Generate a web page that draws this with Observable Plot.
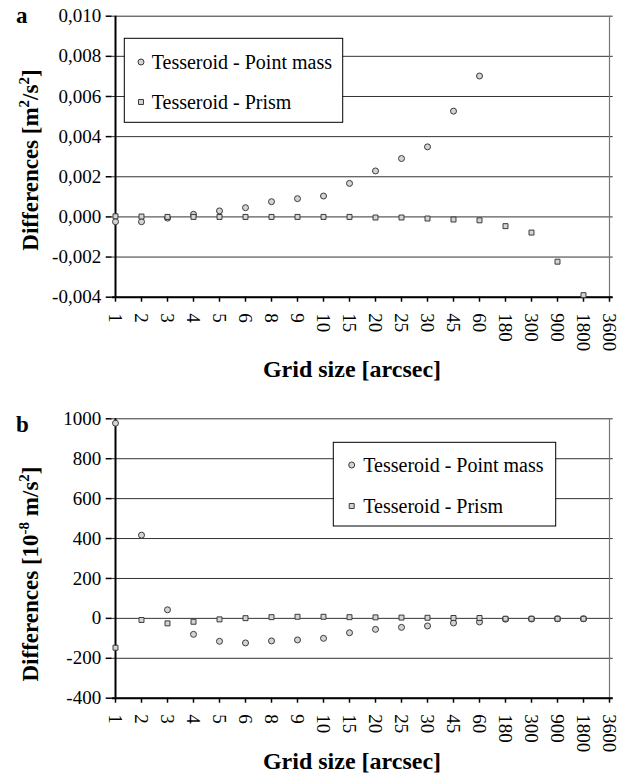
<!DOCTYPE html>
<html><head><meta charset="utf-8">
<script src="https://cdn.jsdelivr.net/npm/d3@7"></script>
<script src="https://cdn.jsdelivr.net/npm/@observablehq/plot@0.6"></script>
<style>
body{margin:0;background:#fff;}
#wrap{position:relative;width:629px;height:781px;background:#fff;}
#wrap svg{position:absolute;left:0;display:block;}
#wrap svg text{font-family:"Liberation Serif","Times New Roman",serif !important;}
</style></head><body><div id="wrap"></div>
<script>
const gridSizes = ["1","2","3","4","5","6","8","9","10","15","20","25","30","45","60","180","300","900","1800","3600"];
const seriesNames = ["Tesseroid - Point mass", "Tesseroid - Prism"];
// Panel a: differences in m^2/s^2
const pointMassA = [-0.00024, -0.00024, -0.00006, 0.00013, 0.00030, 0.00046, 0.00076, 0.00091, 0.00104, 0.00167, 0.00229, 0.00291, 0.00349, 0.00527, 0.00702, null, null, null, null, null];
const prismA = [0.00003, 0.00002, 0, 0, 0, 0, 0, 0, 0, 0, -0.00003, -0.00003, -0.00008, -0.00013, -0.00017, -0.00046, -0.00078, -0.00223, -0.00390, null];
const ticksA = [-0.004, -0.002, 0, 0.002, 0.004, 0.006, 0.008, 0.010];
// Panel b: differences in 10^-8 m/s^2
const pointMassB = [978, 417, 43, -80, -115, -123, -113, -108, -100, -72, -55, -45, -38, -23, -18, -4, -3, -2, -2, null];
const prismB = [-147, -8, -25, -17, -5, 1, 6, 8, 8, 6, 5, 4, 3, 2, 2, -2, -2, -2, -2, null];
const ticksB = [-400, -200, 0, 200, 400, 600, 800, 1000];

const FONT = "Liberation Serif, Times New Roman, serif";
const FILL = "#d4d4d4", STROKE = "#3a3a3a";
const R_CIRCLE = 3.0, R_SQUARE = 2.8;

function rows(values) {
  return values.map((v, i) => ({x: gridSizes[i], y: v})).filter(d => d.y !== null);
}

function panel({pm, pr, ticks, fmt, height, marginTop, marginBottom}) {
  const svg = Plot.plot({
    width: 629, height, marginLeft: 111.7, marginRight: 16.3, marginTop, marginBottom,
    x: {type: "point", domain: gridSizes, padding: 0},
    y: {domain: [ticks[0], ticks[ticks.length - 1]]},
    style: {fontSize: "19px", color: "#000", background: "transparent", overflow: "visible"},
    marks: [
      Plot.ruleY(ticks, {stroke: "#333", strokeWidth: 1}),
      Plot.ruleX([gridSizes[gridSizes.length - 1]], {stroke: "#777", strokeWidth: 1.2}),
      Plot.axisY({ticks, tickFormat: fmt, tickSize: 6, tickPadding: 5, label: null, fontSize: 19, strokeWidth: 1.5}),
      Plot.axisX({tickSize: 5, tickRotate: 90, tickPadding: 11, label: null, fontSize: 19, strokeWidth: 1.5}),
      Plot.ruleX([gridSizes[0]], {stroke: "#000", strokeWidth: 2}),
      Plot.ruleY([ticks[0]], {stroke: "#000", strokeWidth: 2}),
      Plot.dot(rows(pm), {x: "x", y: "y", symbol: "circle", r: R_CIRCLE, fill: FILL, stroke: STROKE, strokeWidth: 1}),
      Plot.dot(rows(pr), {x: "x", y: "y", symbol: "square", r: R_SQUARE, fill: FILL, stroke: STROKE, strokeWidth: 1})
    ]
  });
  svg.setAttribute("font-family", FONT);
  return svg;
}

function addLegend(svg, {x, y, w, h, rows: ys, mx, tx}) {
  const g = d3.select(svg).append("g").attr("font-family", FONT).attr("font-size", 20).attr("text-anchor", "start");
  g.append("rect").attr("x", x).attr("y", y).attr("width", w).attr("height", h)
    .attr("fill", "#fff").attr("stroke", "#000").attr("stroke-width", 1);
  const syms = [d3.symbolCircle, d3.symbolSquare];
  const rs = [R_CIRCLE, R_SQUARE];
  seriesNames.forEach((name, i) => {
    g.append("path").attr("transform", `translate(${mx},${ys[i]})`)
      .attr("d", d3.symbol(syms[i], Math.PI * rs[i] * rs[i])())
      .attr("fill", FILL).attr("stroke", STROKE);
    g.append("text").attr("x", tx).attr("y", ys[i]).attr("dy", "0.35em")
      .attr("text-anchor", "start").attr("font-size", 20).text(name);
  });
}

function addTitles(svg, {letter, letterY, xTitleY, yTitleY, yParts}) {
  const s = d3.select(svg);
  s.append("text").attr("x", 16).attr("y", letterY).attr("text-anchor", "start")
    .attr("font-weight", "bold").attr("font-size", 23).text(letter);
  s.append("text").attr("x", 352).attr("y", xTitleY).attr("text-anchor", "middle")
    .attr("font-weight", "bold").attr("font-size", 24).text("Grid size [arcsec]");
  const t = s.append("text").attr("transform", `translate(38,${yTitleY}) rotate(-90)`)
    .attr("text-anchor", "middle").attr("font-weight", "bold").attr("font-size", 23);
  let prevSup = false;
  yParts.forEach(([txt, sup]) => {
    const span = t.append("tspan").text(txt);
    if (sup) span.attr("dy", -9).attr("font-size", 15);
    else if (prevSup) span.attr("dy", 9);
    prevSup = !!sup;
  });
}

const wrap = document.getElementById("wrap");

const fmtA = d => d.toFixed(3).replace(".", ",");
const svgA = panel({pm: pointMassA, pr: prismA, ticks: ticksA, fmt: fmtA, height: 390, marginTop: 15.7, marginBottom: 93.3});
svgA.style.top = "0px";
addLegend(svgA, {x: 124.3, y: 38.3, w: 218.4, h: 84, rows: [62, 102], mx: 141, tx: 151.7});
addTitles(svgA, {letter: "a", letterY: 23, xTitleY: 377, yTitleY: 160,
  yParts: [["Differences [m"], ["2", true], ["/s"], ["2", true], ["]"]]});
wrap.appendChild(svgA);

const fmtB = d => String(d);
const svgB = panel({pm: pointMassB, pr: prismB, ticks: ticksB, fmt: fmtB, height: 391, marginTop: 28.3, marginBottom: 83.3});
svgB.style.top = "390px";
addLegend(svgB, {x: 333.3, y: 52.3, w: 222.4, h: 83.7, rows: [75, 116], mx: 351.7, tx: 363.3});
addTitles(svgB, {letter: "b", letterY: 42, xTitleY: 379, yTitleY: 184,
  yParts: [["Differences [10"], ["-8", true], [" m/s"], ["2", true], ["]"]]});
wrap.appendChild(svgB);
</script>
</body></html>
